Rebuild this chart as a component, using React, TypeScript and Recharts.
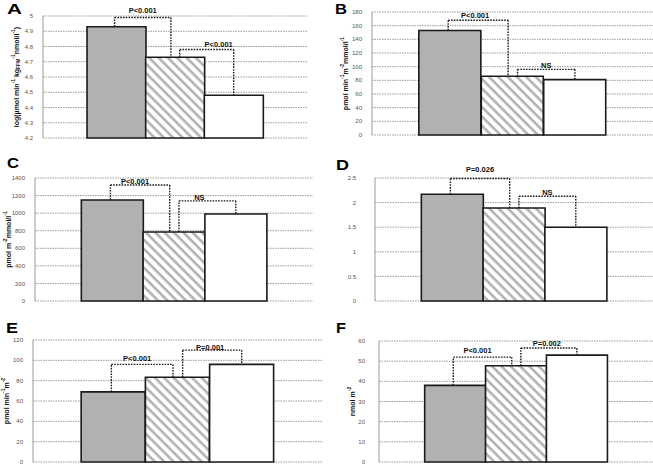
import React from "react";
import {
  BarChart,
  Bar,
  Cell,
  XAxis,
  YAxis,
  CartesianGrid,
  ReferenceLine,
  ReferenceDot,
  Label,
} from "recharts";

// bar order in every panel: grey, hatched, white
const groups = ["grey", "hatched", "white"];

const valuesA = [4.93, 4.73, 4.48];
const valuesB = [153, 86, 81];
const valuesC = [1150, 785, 990];
const valuesD = [2.17, 1.89, 1.5];
const valuesE = [69, 83.4, 96];
const valuesF = [38, 47.7, 53];

const ticksA = [4.2, 4.3, 4.4, 4.5, 4.6, 4.7, 4.8, 4.9, 5];
const ticksB = [0, 20, 40, 60, 80, 100, 120, 140, 160, 180];
const ticksC = [0, 200, 400, 600, 800, 1000, 1200, 1400];
const ticksD = [0, 0.5, 1, 1.5, 2, 2.5];
const ticksE = [0, 20, 40, 60, 80, 100, 120];
const ticksF = [0, 10, 20, 30, 40, 50, 60];

const bracketsA = [
  { from: 0, to: 1, level: 4.99, label: "P<0.001" },
  { from: 1, to: 2, level: 4.78, label: "P<0.001" },
];
const bracketsB = [
  { from: 0, to: 1, level: 168, label: "P<0.001" },
  { from: 1, to: 2, level: 96, label: "NS" },
];
const bracketsC = [
  { from: 0, to: 1, level: 1320, label: "P<0.001" },
  { from: 1, to: 2, level: 1140, label: "NS" },
];
const bracketsD = [
  { from: 0, to: 1, level: 2.49, label: "P=0.026" },
  { from: 1, to: 2, level: 2.13, label: "NS" },
];
const bracketsE = [
  { from: 0, to: 1, level: 96, label: "P<0.001" },
  { from: 1, to: 2, level: 110, label: "P=0.001" },
];
const bracketsF = [
  { from: 0, to: 1, level: 52, label: "P<0.001" },
  { from: 1, to: 2, level: 56.5, label: "P=0.002" },
];

type Part = [string, "" | "sup" | "sub"];

const titleA: Part[] = [
  ["log(µmol min", ""], ["-1", "sup"], [" kg", ""], ["FFM", "sub"],
  ["-1", "sup"], ["nmol/l", ""], ["-1", "sup"], [")", ""],
];
const titleB: Part[] = [
  ["pmol min", ""], ["-1", "sup"], ["m", ""], ["-2", "sup"], ["mmol/l", ""], ["-1", "sup"],
];
const titleC: Part[] = [["pmol m", ""], ["-2", "sup"], ["mmol/l", ""], ["-1", "sup"]];
const titleD: Part[] = [];
const titleE: Part[] = [["pmol min", ""], ["-1", "sup"], ["m", ""], ["-2", "sup"]];
const titleF: Part[] = [["nmol m", ""], ["-2", "sup"]];

// layout: chart box, plot box [left, top, right, bottom], tick gap, label nudges
const panels = [
  { id: "A", values: valuesA, ticks: ticksA, brackets: bracketsA, title: titleA,
    box: [0, 0, 330, 150], plot: [43, 16, 307, 138], tickGap: 10, nudge: [[0, -5], [12, -3]] },
  { id: "B", values: valuesB, ticks: ticksB, brackets: bracketsB, title: titleB,
    box: [330, 0, 323, 150], plot: [372, 12, 653, 135], tickGap: 10, nudge: [[-3, -2], [0, -1]] },
  { id: "C", values: valuesC, ticks: ticksC, brackets: bracketsC, title: titleC,
    box: [0, 150, 330, 155], plot: [35, 178, 313, 301], tickGap: 10, nudge: [[-5, -1], [-8, -1]] },
  { id: "D", values: valuesD, ticks: ticksD, brackets: bracketsD, title: titleD,
    box: [330, 150, 323, 155], plot: [375, 178, 653, 301], tickGap: 19, nudge: [[0, -6], [0, -1]] },
  { id: "E", values: valuesE, ticks: ticksE, brackets: bracketsE, title: titleE,
    box: [0, 305, 330, 160], plot: [33, 340, 322, 462], tickGap: 10, nudge: [[-5, -3], [-2, 0]] },
  { id: "F", values: valuesF, ticks: ticksF, brackets: bracketsF, title: titleF,
    box: [330, 305, 323, 160], plot: [379, 341, 653, 462], tickGap: 14, nudge: [[-5, -4], [-2, -2]] },
];

const letters = [
  { t: "A", x: 7, y: 14, w: 15 },
  { t: "B", x: 335, y: 13.5, w: 12 },
  { t: "C", x: 7, y: 168, w: 12 },
  { t: "D", x: 336, y: 170, w: 13 },
  { t: "E", x: 6, y: 333, w: 12 },
  { t: "F", x: 336, y: 333, w: 10 },
];

const FONT = "'Liberation Sans', Arial, sans-serif";

// legs on the middle bar are pulled apart so the two brackets don't touch
const legX = (i: number, side: "start" | "end") =>
  i === 1 ? (side === "start" ? 1.08 : 0.93) : i === 0 ? -0.03 : 2;

function AxisTitle(props: any) {
  const { viewBox, parts } = props;
  if (!viewBox || !parts.length) return null;
  const cx = viewBox.x + viewBox.width - 27;
  const cy = viewBox.y + viewBox.height / 2;
  let shift = 0;
  return (
    <text
      transform={`rotate(-90 ${cx} ${cy})`}
      x={cx}
      y={cy}
      textAnchor="middle"
      dominantBaseline="central"
      fontSize={7}
      fontWeight="bold"
      fill="#111"
      fontFamily={FONT}
    >
      {parts.map(([t, kind]: Part, k: number) => {
        const target = kind === "sup" ? -2.6 : kind === "sub" ? 1.6 : 0;
        const dy = target - shift;
        shift = target;
        return (
          <tspan key={k} dy={dy} fontSize={kind ? 5 : 7}>
            {t}
          </tspan>
        );
      })}
    </text>
  );
}

function Panel({ p }: { p: (typeof panels)[number] }) {
  const [bx, by, bw, bh] = p.box;
  const [pl, pt, pr, pb] = p.plot;
  const rows = p.values.map((v, i) => ({ slot: i, group: groups[i], value: v }));
  const lo = p.ticks[0];
  const hi = p.ticks[p.ticks.length - 1];
  const hatchId = `hatch-${p.id}`;
  const fills = ["#b1b1b1", `url(#${hatchId})`, "#ffffff"];
  const dash = { stroke: "#1a1a1a", strokeWidth: 1.4, strokeDasharray: "1.6 1.2" };

  return (
    <div style={{ position: "absolute", left: bx, top: by }}>
      <BarChart
        width={bw}
        height={bh}
        data={rows}
        barCategoryGap={0}
        barGap={0}
        margin={{ top: pt - by, bottom: by + bh - pb, left: 0, right: bx + bw - pr }}
      >
        <defs>
          <pattern
            id={hatchId}
            patternUnits="userSpaceOnUse"
            width={6.6}
            height={6.6}
            patternTransform="rotate(45)"
          >
            <rect x={0} y={0} width={6.6} height={6.6} fill="#fff" />
            <rect x={0} y={0} width={6.6} height={2.6} fill="#b3b3b3" />
          </pattern>
        </defs>
        <CartesianGrid vertical={false} stroke="#9a9a9a" strokeDasharray="1.5 1" />
        <XAxis
          dataKey="slot"
          type="number"
          domain={[-1.25, 3.25]}
          allowDataOverflow
          tick={false}
          tickLine={false}
          height={0}
          axisLine={{ stroke: "#8a8a8a" }}
        />
        <YAxis
          width={pl - bx}
          domain={[lo, hi]}
          ticks={p.ticks}
          interval={0}
          tickLine={false}
          tickSize={0}
          tickMargin={p.tickGap}
          axisLine={{ stroke: "#9a9a9a" }}
          tick={{ fontSize: 6, fill: "#555", fontFamily: FONT }}
        >
          <Label content={(lp: any) => <AxisTitle {...lp} parts={p.title} />} />
        </YAxis>
        <Bar dataKey="value" stroke="#1a1a1a" strokeWidth={1.6} isAnimationActive={false}>
          {rows.map((r, i) => (
            <Cell key={r.group} fill={fills[i]} />
          ))}
        </Bar>
        {p.brackets.map((b, k) => {
          const x1 = legX(b.from, "start");
          const x2 = legX(b.to, "end");
          const [dx, dy] = p.nudge[k];
          return (
            <React.Fragment key={k}>
              <ReferenceLine ifOverflow="visible" {...dash}
                segment={[{ x: x1, y: p.values[b.from] }, { x: x1, y: b.level }]} />
              <ReferenceLine ifOverflow="visible" {...dash}
                segment={[{ x: x1, y: b.level }, { x: x2, y: b.level }]} />
              <ReferenceLine ifOverflow="visible" {...dash}
                segment={[{ x: x2, y: b.level }, { x: x2, y: p.values[b.to] }]} />
              <ReferenceDot
                x={(x1 + x2) / 2}
                y={b.level}
                r={0}
                ifOverflow="visible"
                shape={(sp: any) => (
                  <text
                    x={sp.cx + dx}
                    y={sp.cy + dy}
                    textAnchor="middle"
                    fontSize={7.5}
                    fontWeight="bold"
                    fill="#111"
                    fontFamily={FONT}
                  >
                    {b.label}
                  </text>
                )}
              />
            </React.Fragment>
          );
        })}
      </BarChart>
    </div>
  );
}

export default function App() {
  return (
    <div
      style={{
        position: "absolute",
        left: 0,
        top: 0,
        width: 653,
        height: 465,
        background: "#fff",
        overflow: "hidden",
        fontFamily: FONT,
      }}
    >
      {panels.map((p) => (
        <Panel key={p.id} p={p} />
      ))}
      <svg
        width={653}
        height={465}
        style={{ position: "absolute", left: 0, top: 0, pointerEvents: "none" }}
      >
        {letters.map((l) => (
          <text
            key={l.t}
            x={l.x}
            y={l.y}
            fontSize={15}
            fontWeight="bold"
            fill="#000"
            fontFamily={FONT}
            textLength={l.w}
            lengthAdjust="spacingAndGlyphs"
          >
            {l.t}
          </text>
        ))}
      </svg>
    </div>
  );
}
